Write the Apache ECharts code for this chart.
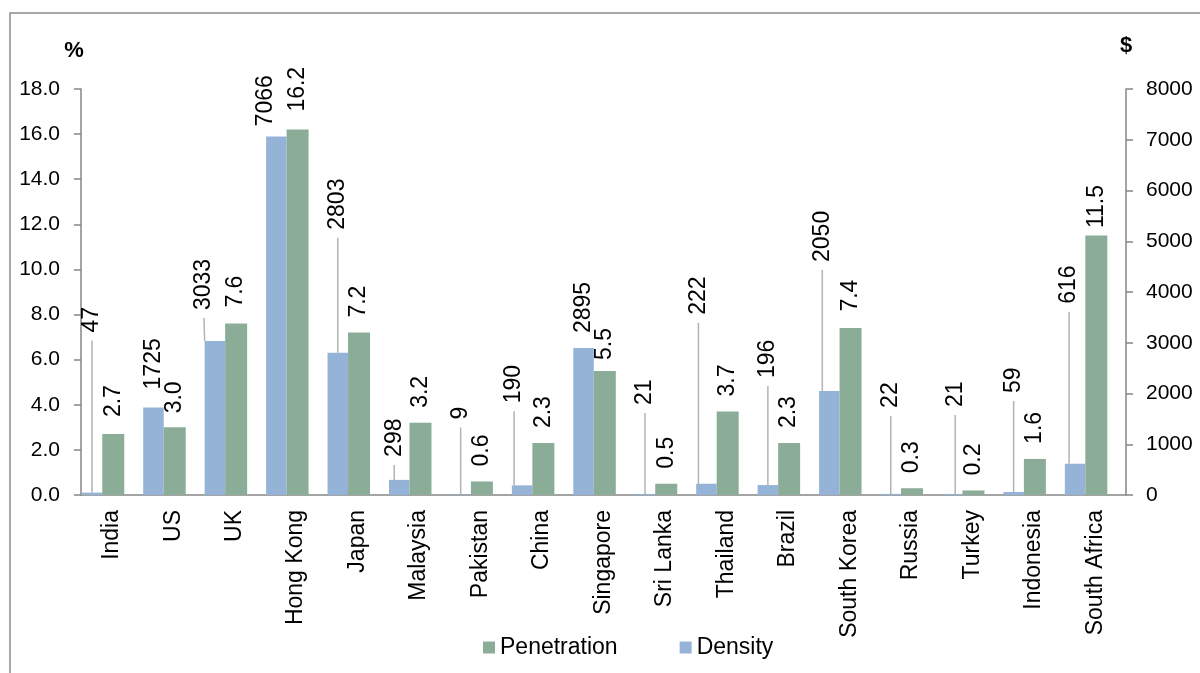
<!DOCTYPE html>
<html>
<head>
<meta charset="utf-8">
<title>Penetration and Density by Country</title>
<script src="https://cdn.jsdelivr.net/npm/echarts@6.0.0/dist/echarts.min.js"></script>
<style>
  html, body { margin: 0; padding: 0; background: #ffffff; }
  #chart { width: 1200px; height: 673px; }
</style>
</head>
<body>
<div id="chart"></div>
<script>
// ---- data ----
const categories = ['India', 'US', 'UK', 'Hong Kong', 'Japan', 'Malaysia', 'Pakistan', 'China',
  'Singapore', 'Sri Lanka', 'Thailand', 'Brazil', 'South Korea', 'Russia', 'Turkey', 'Indonesia', 'South Africa'];
// Penetration, % (left axis)
const penetration = [2.7, 3.0, 7.6, 16.2, 7.2, 3.2, 0.6, 2.3, 5.5, 0.5, 3.7, 2.3, 7.4, 0.3, 0.2, 1.6, 11.5];
// Density, $ (right axis)
const density = [47, 1725, 3033, 7066, 2803, 298, 9, 190, 2895, 21, 222, 196, 2050, 22, 21, 59, 616];
// axis scales
const pctScale = { min: 0, max: 18, interval: 2 };
const usdScale = { min: 0, max: 8000, interval: 1000 };

// ---- label placement (px): [shift right, lift up] ----
const densityLabelShift = [[0, 145], [0, 3], [-11, 16], [-11, -5], [0, 108], [-5, 8], [0, 60], [-8, 67],
  [0, 0], [0, 74], [-8, 154], [0, 92], [-7, 114], [0, 71], [3, 72], [0, 84], [-6, 145]];
const penetrationLabelLift = [2, -1, 1, 3, 0, 0, 0, 0, -4, 0, 0, 0, 1.5, 0, 0, 0, -7.5];

const FONT = '"Liberation Sans", Arial, Helvetica, sans-serif';
const GREEN = '#8bad98';
const BLUE = '#95b3d7';
const AXIS_GRAY = '#868686';

const densityData = density.map((v, i) => ({
  value: v,
  labelLine: { show: densityLabelShift[i][1] >= 8 }
}));

const chart = echarts.init(document.getElementById('chart'), null, { renderer: 'canvas' });

const axisLine = { show: true, lineStyle: { color: AXIS_GRAY, width: 1.5 } };
const valueTick = { show: true, inside: false, length: 7, lineStyle: { color: AXIS_GRAY, width: 1.5 } };

// Labels are turned 90°, so the layout offset runs along the text:
// dx lifts the label up the page, dy moves it sideways.
const offsetAlongText = (lift, shift) => ({ dx: lift, dy: shift });

const option = {
  animation: false,
  backgroundColor: '#ffffff',
  textStyle: { fontFamily: FONT },
  graphic: [{
    type: 'rect',
    silent: true,
    shape: { x: 10, y: 13, width: 1300, height: 800 },
    style: { fill: 'none', stroke: '#8c8c8c', lineWidth: 1.5 }
  }],
  legend: {
    data: ['Penetration', 'Density'],
    left: 478,
    top: 631,
    icon: 'rect',
    itemWidth: 12,
    itemHeight: 12,
    itemGap: 62,
    textStyle: { fontFamily: FONT, fontSize: 23, color: '#000' }
  },
  grid: [
    { left: 81, right: 74, top: 89, bottom: 178 },
    { left: 72.3, right: 83.2, top: 89, bottom: 178 }
  ],
  xAxis: [
    {
      type: 'category', gridIndex: 0, data: categories,
      axisLine: axisLine,
      axisTick: { show: false },
      axisLabel: { interval: 0, rotate: 90, margin: 15, fontSize: 23, color: '#000', fontFamily: FONT }
    },
    { type: 'category', gridIndex: 1, data: categories, show: false }
  ],
  yAxis: [
    {
      type: 'value', gridIndex: 0, position: 'left',
      min: pctScale.min, max: pctScale.max, interval: pctScale.interval,
      name: '%', nameLocation: 'end', nameGap: 27,
      nameTextStyle: { fontFamily: FONT, fontSize: 22, fontWeight: 'bold', color: '#000', padding: [0, 14, 0, 0] },
      axisLine: axisLine, axisTick: valueTick,
      splitLine: { show: false },
      axisLabel: { margin: 21, fontSize: 21, color: '#000', fontFamily: FONT, formatter: v => v.toFixed(1) }
    },
    {
      type: 'value', gridIndex: 0, position: 'right',
      min: usdScale.min, max: usdScale.max, interval: usdScale.interval,
      name: '$', nameLocation: 'end', nameGap: 32,
      nameTextStyle: { fontFamily: FONT, fontSize: 22, fontWeight: 'bold', color: '#000' },
      axisLine: axisLine, axisTick: valueTick,
      splitLine: { show: false },
      axisLabel: { margin: 20, fontSize: 21, color: '#000', fontFamily: FONT, formatter: v => String(v) }
    },
    { type: 'value', gridIndex: 1, min: pctScale.min, max: pctScale.max, interval: pctScale.interval, show: false, splitLine: { show: false } },
    { type: 'value', gridIndex: 1, min: usdScale.min, max: usdScale.max, interval: usdScale.interval, show: false, splitLine: { show: false } }
  ],
  series: [
    {
      name: 'Density',
      type: 'bar',
      xAxisIndex: 1,
      yAxisIndex: 3,
      data: densityData,
      barWidth: 20.5,
      barGap: '0%',
      itemStyle: { color: BLUE },
      label: {
        show: true,
        position: 'top',
        distance: 7,
        rotate: 90,
        align: 'left',
        verticalAlign: 'middle',
        fontSize: 23,
        color: '#000',
        fontFamily: FONT,
        padding: [0, 0, 0, 8],
        backgroundColor: 'transparent',
        formatter: p => String(p.value)
      },
      labelLine: { show: false, length2: 0, smooth: false, lineStyle: { color: '#b3b3b3', width: 1.5 } },
      labelLayout: p => offsetAlongText(densityLabelShift[p.dataIndex][1], densityLabelShift[p.dataIndex][0])
    },
    {
      name: 'Penetration',
      type: 'bar',
      xAxisIndex: 1,
      yAxisIndex: 2,
      data: penetration,
      barWidth: 22,
      barGap: '0%',
      itemStyle: { color: GREEN },
      label: {
        show: true,
        position: 'top',
        distance: 15,
        rotate: 90,
        align: 'left',
        verticalAlign: 'middle',
        fontSize: 23,
        color: '#000',
        fontFamily: FONT,
        formatter: p => p.value.toFixed(1)
      },
      labelLayout: p => offsetAlongText(penetrationLabelLift[p.dataIndex], 0)
    }
  ]
};

chart.setOption(option);
</script>
</body>
</html>
